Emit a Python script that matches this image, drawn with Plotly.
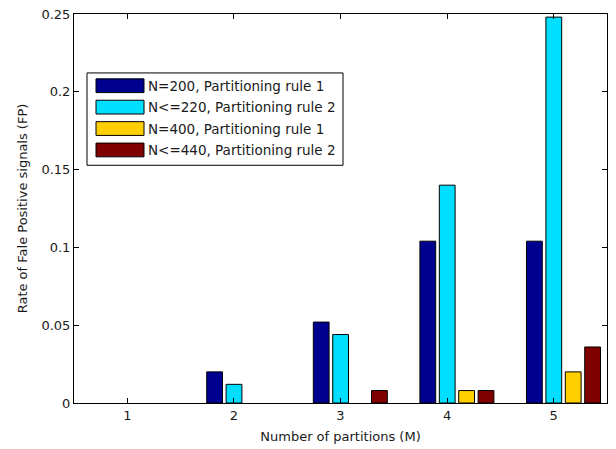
import plotly.graph_objects as go

# ---- data ----
partitions = [1, 2, 3, 4, 5]
tick_labels = ["1", "2", "3", "4", "5"]
series_names = [
    "N=200, Partitioning rule 1",
    "N&lt;=220, Partitioning rule 2",
    "N=400, Partitioning rule 1",
    "N&lt;=440, Partitioning rule 2",
]
fp_n200_rule1 = [0.0, 0.020, 0.052, 0.104, 0.104]
fp_n220_rule2 = [0.0, 0.012, 0.044, 0.140, 0.248]
fp_n400_rule1 = [0.0, 0.0, 0.0, 0.008, 0.020]
fp_n440_rule2 = [0.0, 0.0, 0.008, 0.008, 0.036]
y_ticks = [0, 0.05, 0.1, 0.15, 0.2, 0.25]
y_tick_labels = ["0", "0.05", "0.1", "0.15", "0.2", "0.25"]

# ---- style ----
colors = ["#000090", "#00DFFF", "#FFCF00", "#800000"]
offsets = [-0.255, -0.073, 0.109, 0.291]
bar_width = 0.148
FONT = "DejaVu Sans, sans-serif"
TXT = "#1a1a1a"

W, H = 616, 449
L, R, T, B = 74, 607, 7, 403


def px2paper(px, py):
    return (px - L) / (R - L), (B - py) / (B - T)


fig = go.Figure()
all_series = [fp_n200_rule1, fp_n220_rule2, fp_n400_rule1, fp_n440_rule2]
for name, vals, col, off in zip(series_names, all_series, colors, offsets):
    fig.add_trace(go.Bar(
        x=partitions, y=vals, name=name,
        width=bar_width, offset=off,
        marker=dict(color=col,
                    line=dict(color="black", width=[1 if v > 0 else 0 for v in vals])),
        showlegend=False,
    ))

# ---- custom MATLAB-style legend ----
shapes = []
annotations = []
x0, y0 = px2paper(87, 67)
x1, y1 = px2paper(343, 161)
shapes.append(dict(type="rect", xref="paper", yref="paper", x0=x0, y0=y1, x1=x1, y1=y0,
                   line=dict(color="black", width=1), fillcolor="white", layer="above"))
row_centers = [80, 101.8, 123.6, 145.4]
for name, col, cy in zip(series_names, colors, row_centers):
    sx0, sy0 = px2paper(96, cy - 7)
    sx1, sy1 = px2paper(144, cy + 7)
    shapes.append(dict(type="rect", xref="paper", yref="paper", x0=sx0, y0=sy1, x1=sx1, y1=sy0,
                       line=dict(color="black", width=1), fillcolor=col, layer="above"))
    tx, ty = px2paper(146, cy)
    annotations.append(dict(xref="paper", yref="paper", x=tx, y=ty, text=name, showarrow=False,
                            xanchor="left", yanchor="middle",
                            font=dict(family=FONT, size=13.5, color=TXT)))

fig.update_layout(
    width=W, height=H,
    margin=dict(l=L, r=W - R, t=T, b=H - B),
    paper_bgcolor="white", plot_bgcolor="white",
    barmode="overlay",
    font=dict(family=FONT, size=13, color=TXT),
    shapes=shapes, annotations=annotations,
    xaxis=dict(range=[0.5, 5.5], tickvals=partitions, ticktext=tick_labels,
               showline=True, linecolor="black", linewidth=1, mirror="ticks",
               ticks="inside", ticklen=5, tickcolor="black", showgrid=False, zeroline=False,
               title=dict(text="Number of partitions (M)", font=dict(size=13), standoff=10),
               tickfont=dict(size=13), ticklabeloverflow="allow"),
    yaxis=dict(range=[0, 0.25], tickvals=y_ticks, ticktext=y_tick_labels,
               showline=True, linecolor="black", linewidth=1, mirror="ticks",
               ticks="inside", ticklen=5, tickcolor="black", showgrid=False, zeroline=False,
               title=dict(text="Rate of Fale Positive signals (FP)", font=dict(size=13), standoff=10),
               tickfont=dict(size=13), ticklabeloverflow="allow"),
)

fig.write_html("out.html", config={"displayModeBar": False},
               post_script="document.body.style.margin='0';")
